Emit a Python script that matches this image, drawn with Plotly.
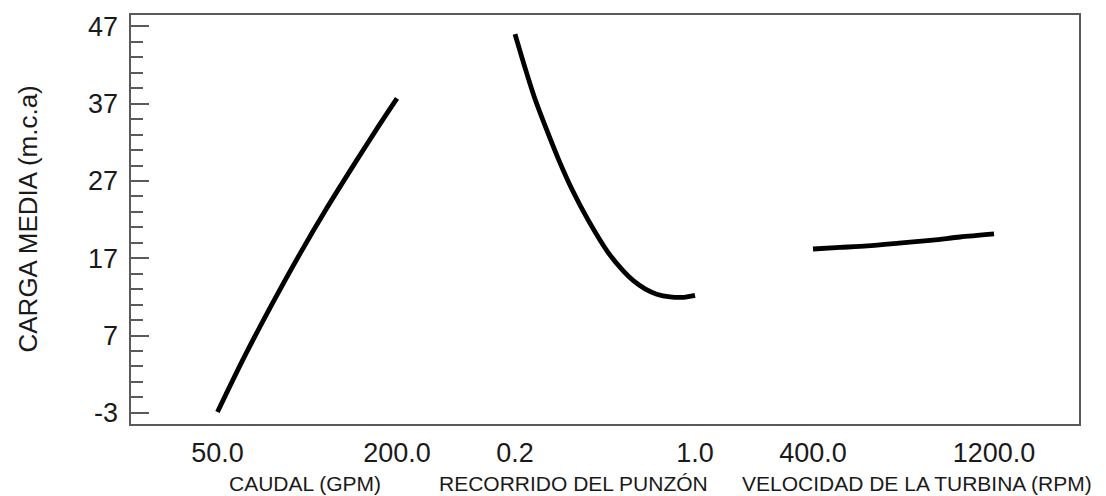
import plotly.graph_objects as go

# Main effects for CARGA MEDIA (m.c.a)
caudal_gpm = [50, 72, 94, 119, 141, 166, 185, 200]
carga_caudal = [-2.9, 4.1, 10.6, 17.6, 23.4, 29.6, 34.2, 37.7]

recorrido = [0.2, 0.244, 0.289, 0.341, 0.392, 0.452, 0.526, 0.615, 0.68, 0.726,
             0.78, 0.83, 0.889, 0.95, 1.0]
carga_recorrido = [46.0, 41.7, 37.6, 33.6, 29.9, 26.0, 21.9, 17.7, 15.4, 14.1,
                   13.0, 12.35, 12.0, 11.95, 12.2]

velocidad_rpm = [400, 520, 640, 780, 930, 1050, 1200]
carga_velocidad = [18.2, 18.4, 18.6, 18.95, 19.35, 19.75, 20.15]

y_ticks = [-3, 7, 17, 27, 37, 47]
y_tick_text = ["-3", "7", "17", "27", "37", "47"]
caudal_ticks = [50, 200]
recorrido_ticks = [0.2, 1.0]
velocidad_ticks = [400, 1200]

factor_labels = ["CAUDAL (GPM)", "RECORRIDO DEL PUNZÓN", "VELOCIDAD DE LA TURBINA (RPM)"]
y_title = "CARGA MEDIA (m.c.a)"

FONT = "Liberation Sans, Arial, sans-serif"
FRAME = "#5a5a5a"
TEXT = "#1a1a1a"

fig = go.Figure()
line_style = dict(color="black", width=4.8, shape="spline", smoothing=0.8)
fig.add_trace(go.Scatter(x=caudal_gpm, y=carga_caudal, mode="lines", line=line_style,
                         xaxis="x", yaxis="y", showlegend=False))
fig.add_trace(go.Scatter(x=recorrido, y=carga_recorrido, mode="lines", line=line_style,
                         xaxis="x2", yaxis="y", showlegend=False))
fig.add_trace(go.Scatter(x=velocidad_rpm, y=carga_velocidad, mode="lines", line=line_style,
                         xaxis="x3", yaxis="y", showlegend=False))

d1 = 326 / 950
d2 = 624 / 950
xcommon = dict(showgrid=False, zeroline=False, showline=False, ticks="",
               tickformat=".1f", tickfont=dict(family=FONT, size=27, color=TEXT),
               ticklabelstandoff=9, anchor="y", fixedrange=True)
y_range = [-4.58, 48.61]
ycommon = dict(range=y_range, showgrid=False, zeroline=False, showline=False,
               tickvals=y_ticks, ticktext=y_tick_text, ticks="inside", ticklen=18,
               tickwidth=1.5, tickcolor=FRAME,
               minor=dict(tick0=-3, dtick=2, ticks="inside", ticklen=12,
                          tickwidth=1.5, tickcolor=FRAME),
               fixedrange=True)

fig.update_layout(
    width=1106, height=496,
    margin=dict(l=130, r=26, t=12, b=71),
    paper_bgcolor="white", plot_bgcolor="white",
    xaxis=dict(domain=[0, d1], range=[-23.1, 249.3], tickvals=caudal_ticks, **xcommon),
    xaxis2=dict(domain=[d1, d2], range=[-0.0622, 1.2622], tickvals=recorrido_ticks, **xcommon),
    xaxis3=dict(domain=[d2, 1], range=[139.2, 1580], tickvals=velocidad_ticks, **xcommon),
    yaxis=dict(anchor="free", position=0, side="left",
               tickfont=dict(family=FONT, size=27, color=TEXT),
               ticklabelstandoff=12, **ycommon),
    yaxis2=dict(anchor="free", position=1, side="right", overlaying="y",
                showticklabels=False, **ycommon),
)

# frame around the whole plotting area
fig.add_shape(type="rect", xref="paper", yref="paper", x0=0, x1=1, y0=0, y1=1,
              line=dict(color=FRAME, width=2), layer="above")

# factor names under each panel
label_x = [(305 - 130) / 950, (573 - 130) / 950, (917 - 130) / 950]
for lx, txt in zip(label_x, factor_labels):
    fig.add_annotation(x=lx, y=(425 - 484) / 413, xref="paper", yref="paper",
                       text=txt, showarrow=False, xanchor="center", yanchor="middle",
                       font=dict(family=FONT, size=21, color=TEXT))

fig.add_annotation(x=(27 - 130) / 950, y=0.5, xref="paper", yref="paper",
                   text=y_title, textangle=-90, showarrow=False,
                   xanchor="center", yanchor="middle",
                   font=dict(family=FONT, size=26, color=TEXT))

fig.write_html("out.html", config={"displayModeBar": False})
